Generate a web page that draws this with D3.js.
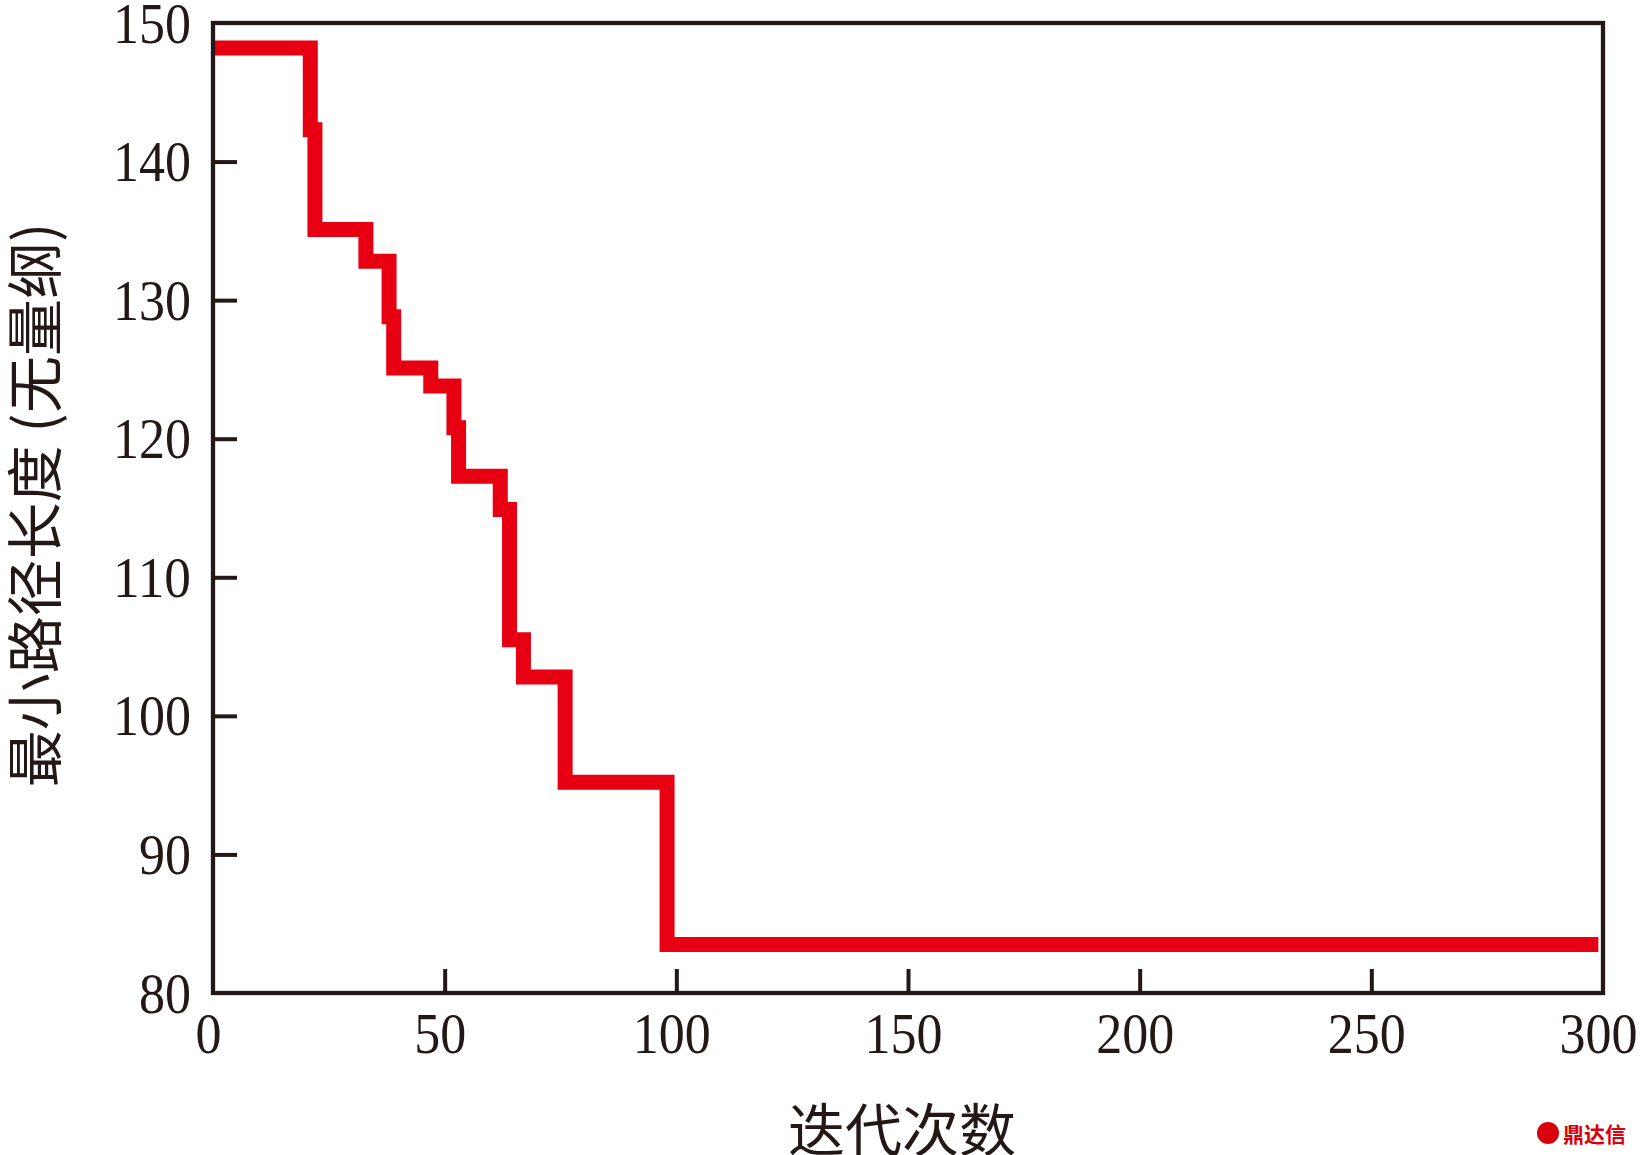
<!DOCTYPE html>
<html>
<head>
<meta charset="utf-8">
<script src="https://cdn.jsdelivr.net/npm/d3@7/dist/d3.min.js"></script>
<style>
  html, body { margin: 0; padding: 0; background: #ffffff; }
  svg { display: block; }
</style>
</head>
<body>
<svg id="chart" width="1640" height="1155"></svg>
<script>
// ---- data ----
const iterations = [0, 21, 22, 33, 38, 39, 47, 52, 53, 62, 64, 67, 76, 98, 299];
const minLength  = [148.2, 142.3, 135.1, 132.8, 128.8, 125.1, 123.8, 120.8, 117.3, 114.9, 105.5, 102.8, 95.2, 83.5, 83.5];
const xTickValues = [0, 50, 100, 150, 200, 250, 300];
const yTickValues = [80, 90, 100, 110, 120, 130, 140, 150];
const xTitle = "迭代次数";
const yTitle = "最小路径长度 (无量纲)";
const watermark = "鼎达信";

// ---- layout ----
const W = 1640, H = 1155;
const L = 213, R = 1603, T = 23, B = 993;
const ink = "#231815";
const red = "#e60012";
const serif = "'Liberation Serif', 'Times New Roman', 'DejaVu Serif', serif";
const cjk = "'Noto Sans CJK SC', 'Noto Sans CJK JP', sans-serif";

const svg = d3.select("#chart");
svg.append("rect").attr("width", W).attr("height", H).attr("fill", "#fff");

const x = d3.scaleLinear().domain([0, 300]).range([L, R]);
const y = d3.scaleLinear().domain([80, 150]).range([B, T]);

const data = iterations.map((it, i) => [it, minLength[i]]);

// line
const line = d3.line().x(d => x(d[0])).y(d => y(d[1])).curve(d3.curveStepAfter);
svg.append("path")
  .datum(data)
  .attr("d", line)
  .attr("fill", "none")
  .attr("stroke", red)
  .attr("stroke-width", 15)
  .attr("stroke-linejoin", "miter")
  .attr("stroke-linecap", "butt");

// axes
const digitW = 26;
const xAxis = d3.axisBottom(x).tickValues(xTickValues).tickSizeInner(-24).tickSizeOuter(0).tickPadding(0).tickFormat(d3.format("d"));
const gx = svg.append("g").attr("transform", `translate(0,${B})`).call(xAxis);
gx.select(".domain").remove();
gx.selectAll(".tick line").attr("stroke", ink).attr("stroke-width", 4);
gx.selectAll(".tick text")
  .attr("fill", ink)
  .attr("font-family", serif)
  .attr("font-size", 58)
  .attr("y", 60).attr("dy", null).attr("dx", -5)
  .attr("text-anchor", "middle")
  .attr("textLength", function() { return this.textContent.length * digitW; })
  .attr("lengthAdjust", "spacingAndGlyphs");
gx.selectAll(".tick").filter(d => d === 0 || d === 300).select("line").remove();

const yAxis = d3.axisLeft(y).tickValues(yTickValues).tickSizeInner(-24).tickSizeOuter(0).tickPadding(22).tickFormat(d3.format("d"));
const gy = svg.append("g").attr("transform", `translate(${L},0)`).call(yAxis);
gy.select(".domain").remove();
gy.selectAll(".tick line").attr("stroke", ink).attr("stroke-width", 4);
gy.selectAll(".tick text")
  .attr("fill", ink)
  .attr("font-family", serif)
  .attr("font-size", 58)
  .attr("dy", null).attr("y", 19)
  .attr("text-anchor", "end")
  .attr("textLength", function() { return this.textContent.length * digitW; })
  .attr("lengthAdjust", "spacingAndGlyphs");
gy.selectAll(".tick").filter(d => d === 80 || d === 150).select("line").remove();

// frame
svg.append("rect")
  .attr("x", L).attr("y", T)
  .attr("width", R - L).attr("height", B - T)
  .attr("fill", "none")
  .attr("stroke", ink)
  .attr("stroke-width", 4.3);

// titles
svg.append("text")
  .attr("x", (L + R) / 2 - 6).attr("y", 1126)
  .attr("text-anchor", "middle")
  .attr("dominant-baseline", "central")
  .attr("font-family", cjk)
  .attr("font-size", 57)
  .attr("fill", ink)
  .text(xTitle);

svg.append("text")
  .attr("transform", `translate(31,505) rotate(-90)`)
  .attr("text-anchor", "middle")
  .attr("dominant-baseline", "central")
  .attr("font-family", cjk)
  .attr("font-size", 57)
  .attr("fill", ink)
  .text(yTitle);

// watermark
const wm = svg.append("g").attr("fill", "#d9000d");
wm.append("circle").attr("cx", 1548).attr("cy", 1133).attr("r", 11);
wm.append("text")
  .attr("x", 1563).attr("y", 1133)
  .attr("dominant-baseline", "central")
  .attr("font-family", cjk)
  .attr("font-weight", "bold")
  .attr("font-size", 21)
  .text(watermark);
</script>
</body>
</html>
